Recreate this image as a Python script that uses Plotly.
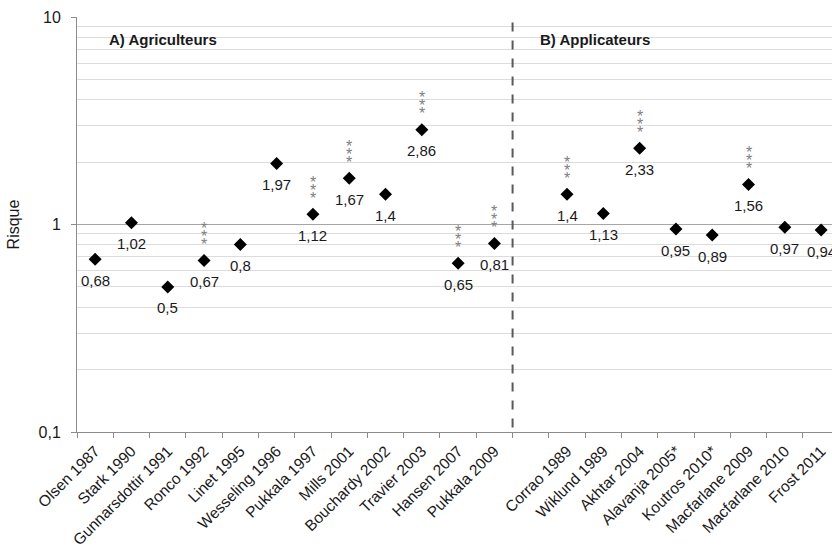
import math
import plotly.graph_objects as go

categories = ["Olsen 1987", "Stark 1990", "Gunnarsdottir 1991", "Ronco 1992", "Linet 1995",
              "Wesseling 1996", "Pukkala 1997", "Mills 2001", "Bouchardy 2002", "Travier 2003",
              "Hansen 2007", "Pukkala 2009", " ", "Corrao 1989", "Wiklund 1989", "Akhtar 2004",
              "Alavanja 2005*", "Koutros 2010*", "Macfarlane 2009", "Macfarlane 2010", "Frost 2011"]
studies = ["Olsen 1987", "Stark 1990", "Gunnarsdottir 1991", "Ronco 1992", "Linet 1995",
           "Wesseling 1996", "Pukkala 1997", "Mills 2001", "Bouchardy 2002", "Travier 2003",
           "Hansen 2007", "Pukkala 2009", "Corrao 1989", "Wiklund 1989", "Akhtar 2004",
           "Alavanja 2005*", "Koutros 2010*", "Macfarlane 2009", "Macfarlane 2010", "Frost 2011"]
risk = [0.68, 1.02, 0.5, 0.67, 0.8, 1.97, 1.12, 1.67, 1.4, 2.86, 0.65, 0.81,
        1.4, 1.13, 2.33, 0.95, 0.89, 1.56, 0.97, 0.94]
risk_labels = ["0,68", "1,02", "0,5", "0,67", "0,8", "1,97", "1,12", "1,67", "1,4", "2,86",
               "0,65", "0,81", "1,4", "1,13", "2,33", "0,95", "0,89", "1,56", "0,97", "0,94"]
significant = ["Ronco 1992", "Pukkala 1997", "Mills 2001", "Travier 2003", "Hansen 2007",
               "Pukkala 2009", "Corrao 1989", "Akhtar 2004", "Macfarlane 2009"]
y_ticks = [0.1, 1, 10]
y_tick_labels = ["0,1", "1", "10"]

FONT = "Liberation Sans, Arial, sans-serif"

fig = go.Figure()
fig.add_trace(go.Scatter(
    x=studies, y=risk, mode="markers",
    marker=dict(symbol="diamond", size=10, color="black"),
    showlegend=False, hoverinfo="skip"))

annotations = []
for s, v, lab in zip(studies, risk, risk_labels):
    annotations.append(dict(x=s, y=math.log10(v), xref="x", yref="y",
                            text=lab, showarrow=False, yshift=-21,
                            font=dict(family=FONT, size=15, color="#1a1a1a")))
for s, v in zip(studies, risk):
    if s in significant:
        for shift in (36, 28, 20):
            annotations.append(dict(x=s, y=math.log10(v), xref="x", yref="y",
                                    text="*", showarrow=False, yshift=shift - 4,
                                    font=dict(family=FONT, size=16, color="#808080")))
annotations.append(dict(x=0.04, y=0.945, xref="paper", yref="paper", text="<b>A) Agriculteurs</b>",
                        showarrow=False, xanchor="left", yanchor="middle",
                        font=dict(family=FONT, size=15, color="#1a1a1a")))
annotations.append(dict(x=0.61, y=0.945, xref="paper", yref="paper", text="<b>B) Applicateurs</b>",
                        showarrow=False, xanchor="left", yanchor="middle",
                        font=dict(family=FONT, size=15, color="#1a1a1a")))

fig.add_shape(type="line", x0=11.5, x1=11.5, y0=0.105, y1=9.8, xref="x", yref="y",
              line=dict(color="#595959", width=2, dash="dash"))

fig.update_layout(
    width=832, height=548,
    margin=dict(l=77, r=0, t=17, b=116),
    paper_bgcolor="white", plot_bgcolor="white",
    font=dict(family=FONT, size=15, color="#1a1a1a"),
    annotations=annotations,
    xaxis=dict(type="category", categoryorder="array", categoryarray=categories,
               range=[-0.5, 20.3], tickson="boundaries", ticks="outside", ticklen=5,
               tickcolor="#8c8c8c", showline=True, linecolor="#8c8c8c", linewidth=1,
               showgrid=False, tickangle=-45, automargin=False, ticklabelstandoff=3,
               tickfont=dict(family=FONT, size=15.5, color="#1a1a1a")),
    yaxis=dict(type="log", range=[-1, 1], tickvals=y_ticks, ticktext=y_tick_labels,
               ticks="outside", ticklen=5, tickcolor="#8c8c8c",
               showline=True, linecolor="#8c8c8c", linewidth=1, automargin=False,
               showgrid=True, gridcolor="#a6a6a6", gridwidth=1, zeroline=False,
               ticklabelstandoff=7,
               minor=dict(tickvals=[0.2, 0.3, 0.4, 0.5, 0.6, 0.7, 0.8, 0.9, 2, 3, 4, 5, 6, 7, 8, 9],
                          showgrid=True, gridcolor="#dcdcdc", gridwidth=1, ticks=""),
               title=dict(text="Risque", font=dict(family=FONT, size=16, color="#1a1a1a"), standoff=14),
               tickfont=dict(family=FONT, size=16, color="#1a1a1a")),
)

fig.write_html("out.html", config={"displayModeBar": False},
               post_script="document.body.style.margin='0px';document.body.style.overflow='hidden';")
